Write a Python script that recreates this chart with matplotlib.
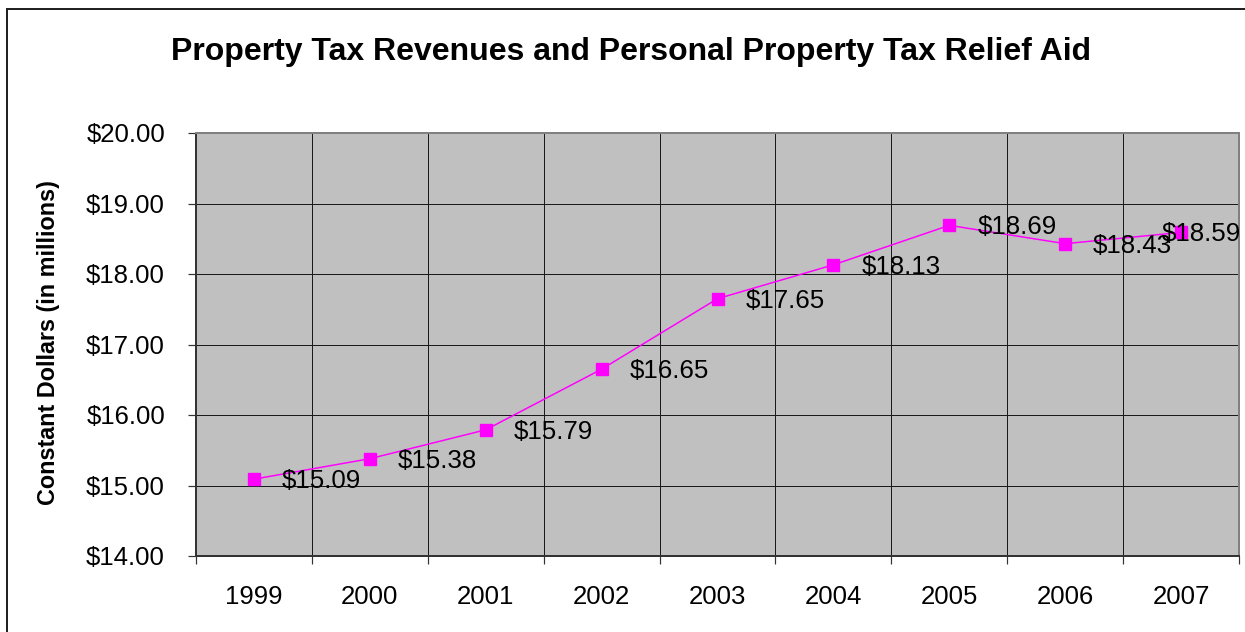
import matplotlib
matplotlib.use("Agg")
import matplotlib.pyplot as plt
from matplotlib.patches import Rectangle
from matplotlib.ticker import FixedLocator, FuncFormatter

# Series data
years = ["1999", "2000", "2001", "2002", "2003", "2004", "2005", "2006", "2007"]
values = [15.09, 15.38, 15.79, 16.65, 17.65, 18.13, 18.69, 18.43, 18.59]
y_ticks = [14, 15, 16, 17, 18, 19, 20]

title = "Property Tax Revenues and Personal Property Tax Relief Aid"
y_label = "Constant Dollars (in millions)"

plt.rcParams["font.family"] = ["Liberation Sans", "DejaVu Sans"]

W, H = 1245, 632
DPI = 100
PX = 72.0 / DPI  # points per pixel

fig = plt.figure(figsize=(W / DPI, H / DPI), dpi=DPI, facecolor="white")

# Outer chart border (right and bottom run past the canvas edge)
fig.patches.append(Rectangle((7 / W, -0.1), 1.2, (H - 9) / H + 0.1,
                             transform=fig.transFigure, fill=False,
                             edgecolor="#222222", linewidth=2 * PX))

left, right, top, bottom = 196, 1239, 133, 556
ax = fig.add_axes([left / W, 1 - bottom / H, (right - left) / W, (bottom - top) / H])
ax.set_facecolor("#C0C0C0")

x = list(range(len(years)))
ax.set_xlim(-0.5, len(years) - 0.5)
ax.set_ylim(y_ticks[0], y_ticks[-1])

# Gridlines: horizontal at each dollar, vertical at category boundaries
for yv in y_ticks[1:-1]:
    ax.axhline(yv, color="#1a1a1a", linewidth=1.0 * PX, zorder=1)
for b in range(len(years) - 1):
    ax.axvline(b + 0.5, color="#1a1a1a", linewidth=1.0 * PX, zorder=1)

ax.plot(x, values, color="#FF00FF", linewidth=1.5 * PX, marker="s",
        markersize=12 * PX, markerfacecolor="#FF00FF", markeredgecolor="#FF00FF",
        zorder=3)

label_fs = 18.6
for i, v in enumerate(values):
    txt = "${:.2f}".format(v)
    if i == len(values) - 1:
        ax.annotate(txt, xy=(1.0, v), xycoords=("axes fraction", "data"),
                    xytext=(2 * PX, -2 * PX), textcoords="offset points",
                    ha="right", va="center", fontsize=label_fs, zorder=4,
                    annotation_clip=False)
    else:
        ax.annotate(txt, xy=(i, v), xytext=(28 * PX, -2 * PX),
                    textcoords="offset points", ha="left", va="center",
                    fontsize=label_fs, zorder=4)

# Axis ticks
ax.yaxis.set_major_locator(FixedLocator(y_ticks))
ax.yaxis.set_major_formatter(FuncFormatter(lambda v, p: "${:.2f}".format(v)))
ax.tick_params(axis="y", which="major", direction="out", length=8 * PX,
               width=1.2 * PX, color="#333333", pad=23 * PX,
               labelsize=18.5)

ax.set_xticks(x)
ax.set_xticklabels(years)
ax.xaxis.set_minor_locator(FixedLocator([b - 0.5 for b in range(len(years) + 1)]))
ax.tick_params(axis="x", which="major", length=0, pad=29 * PX, labelsize=18.5)
ax.tick_params(axis="x", which="minor", direction="out", length=8 * PX,
               width=1.2 * PX, color="#333333")

for side in ("left", "bottom"):
    ax.spines[side].set_color("#333333")
    ax.spines[side].set_linewidth(2 * PX)
for side in ("top", "right"):
    ax.spines[side].set_color("#808080")
    ax.spines[side].set_linewidth(2 * PX)

fig.text(631 / W, 1 - 60 / H, title, ha="center", va="baseline",
         fontsize=23.0, fontweight="bold")
fig.text(48 / W, 1 - 343 / H, y_label, rotation=90, ha="center", va="center",
         fontsize=16.8, fontweight="bold")

fig.savefig("out.png", dpi=DPI, facecolor="white")
